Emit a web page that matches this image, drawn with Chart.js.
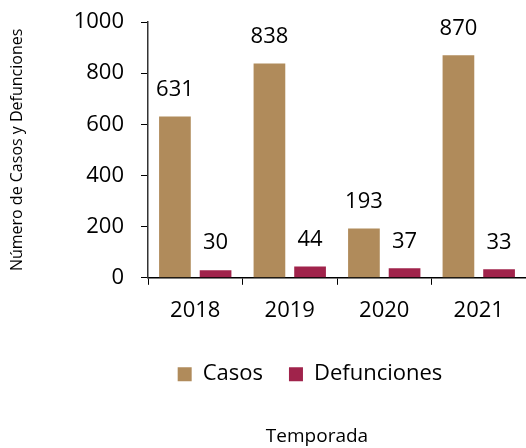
<!DOCTYPE html>
<html>
<head>
<meta charset="utf-8">
<script src="https://cdn.jsdelivr.net/npm/chart.js@4"></script>
<style>
  html, body { margin: 0; padding: 0; background: #fff; }
  #wrap { width: 526px; height: 448px; }
</style>
</head>
<body>
<div id="wrap"><canvas id="chart"></canvas></div>
<script>
const years = ['2018', '2019', '2020', '2021'];
const casos = [631, 838, 193, 870];
const defunciones = [30, 44, 37, 33];
const yTicks = [0, 200, 400, 600, 800, 1000];

const FONT = "'Open Sans', 'Noto Sans', sans-serif";

// numbers above each bar
const barLabels = {
    id: 'barLabels',
    afterDatasetsDraw(chart) {
        const ctx = chart.ctx;
        ctx.save();
        ctx.font = '22px ' + FONT;
        ctx.fillStyle = '#000';
        ctx.textAlign = 'center';
        ctx.textBaseline = 'middle';
        chart.data.datasets.forEach((ds, i) => {
            chart.getDatasetMeta(i).data.forEach((bar, j) => {
                ctx.fillText(ds.data[j], bar.x, bar.y - 27);
            });
        });
        ctx.restore();
    }
};

// legend and bottom title sit a bit right of the canvas centre in the original
const nudgeBottom = {
    id: 'nudgeBottom',
    afterLayout(chart) {
        chart.legend.left += 47;
        chart.legend.right += 47;
        chart.titleBlock.left += 54;
        chart.titleBlock.right += 54;
    }
};

new Chart(document.getElementById('chart').getContext('2d'), {
    type: 'bar',
    data: {
        labels: years,
        datasets: [{
            label: 'Casos',
            data: casos,
            backgroundColor: '#B08B5B',
            categoryPercentage: 0.86,
            barPercentage: 0.78
        }, {
            label: 'Defunciones',
            data: defunciones,
            backgroundColor: '#A0234B',
            categoryPercentage: 0.86,
            barPercentage: 0.78
        }]
    },
    options: {
        responsive: true,
        maintainAspectRatio: false,
        animation: false,
        layout: { padding: { top: 22, right: 0, left: 0, bottom: 0 } },
        plugins: {
            tooltip: { enabled: false },
            legend: {
                position: 'bottom',
                labels: {
                    font: { family: FONT, size: 22 },
                    color: '#000',
                    boxWidth: 14,
                    boxHeight: 14,
                    padding: 26
                }
            },
            title: {
                display: true,
                position: 'bottom',
                text: 'Temporada',
                color: '#000',
                font: { family: FONT, size: 19, weight: 'normal' },
                padding: { top: 30, bottom: 0 }
            }
        },
        scales: {
            x: {
                grid: { display: true, drawOnChartArea: false, tickLength: 7, color: '#000' },
                border: { color: '#000', width: 1.5 },
                ticks: { color: '#000', font: { family: FONT, size: 22 }, padding: 13 }
            },
            y: {
                min: 0,
                max: 1000,
                afterBuildTicks(scale) { scale.ticks = yTicks.map(v => ({ value: v })); },
                afterFit(scale) {
                    scale.width = 148;
                    scale.paddingTop = 0;
                    scale.paddingBottom = 0;
                },
                grid: { display: true, drawOnChartArea: false, tickLength: 7, color: '#000' },
                border: { color: '#333', width: 1.5 },
                ticks: {
                    color: '#000',
                    font: { family: FONT, size: 22 },
                    padding: 17,
                    callback: v => String(v)
                },
                title: {
                    display: true,
                    text: 'Número de Casos y Defunciones',
                    color: '#000',
                    font: { family: FONT, size: 16 },
                    padding: { top: 8, bottom: 0 }
                }
            }
        }
    },
    plugins: [barLabels, nudgeBottom]
});
</script>
</body>
</html>
